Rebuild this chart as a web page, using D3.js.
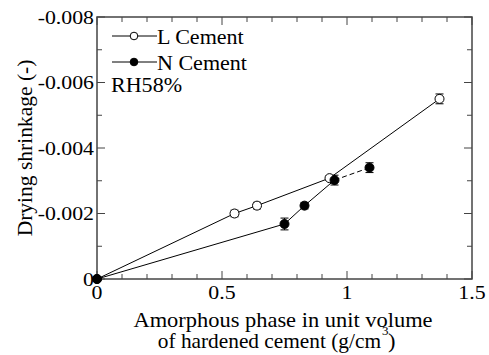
<!DOCTYPE html>
<html>
<head>
<meta charset="utf-8">
<script src="https://cdn.jsdelivr.net/npm/d3@7"></script>
</head>
<body style="margin:0;background:#fff">
<svg id="chart" width="489" height="355"></svg>
<script>
// Drying shrinkage vs. amorphous phase content
const lX = [0, 0.55, 0.64, 0.93, 1.37];
const lY = [0, -0.0020, -0.00224, -0.00308, -0.0055];
const lErr = [0, 0.0001, 0.0001, 0.00006, 0.00015];

const nX = [0, 0.75, 0.83, 0.95, 1.09];
const nY = [0, -0.00168, -0.00224, -0.00302, -0.00340];
const nErr = [0, 0.00018, 0.0001, 0.00015, 0.00015];

const xTicks = [0, 0.5, 1, 1.5];
const xTickLabels = ["0", "0.5", "1", "1.5"];
const yTicks = [0, -0.002, -0.004, -0.006, -0.008];
const yTickLabels = ["0", "-0.002", "-0.004", "-0.006", "-0.008"];

const FONT = "Liberation Serif";

const svg = d3.select("#chart").style("font-family", FONT);
const m = { left: 97, right: 472, top: 17, bottom: 279 };

const x = d3.scaleLinear().domain([0, 1.5]).range([m.left, m.right]);
const y = d3.scaleLinear().domain([0, -0.008]).range([m.bottom, m.top]);

const frameColor = "#444";

// Text helper: places a label at (px, py) with an optional horizontal stretch
function label(px, py, str, size, anchor, sx, rotate) {
  const g = svg.append("g")
    .attr("transform", `translate(${px},${py})` + (rotate ? ` rotate(${rotate})` : "") + ` scale(${sx || 1},1)`);
  return g.append("text")
    .style("font-family", FONT)
    .attr("font-size", size)
    .attr("text-anchor", anchor || "start")
    .attr("fill", "#000")
    .text(str);
}

// Frame
svg.append("rect")
  .attr("x", m.left).attr("y", m.top)
  .attr("width", m.right - m.left).attr("height", m.bottom - m.top)
  .attr("fill", "none").attr("stroke", frameColor).attr("stroke-width", 1.5);

// Minor / major ticks pointing inward on all four sides
const xMinor = d3.range(0, 1.5001, 0.1);
const yMinor = d3.range(0, -0.00801, -0.001);
const tickG = svg.append("g").attr("stroke", frameColor).attr("stroke-width", 1);
xMinor.forEach((v, i) => {
  const len = (i % 5 === 0) ? 8 : 5;
  const px = x(v);
  tickG.append("line").attr("x1", px).attr("x2", px).attr("y1", m.bottom).attr("y2", m.bottom - len);
  tickG.append("line").attr("x1", px).attr("x2", px).attr("y1", m.top).attr("y2", m.top + len);
});
yMinor.forEach((v, i) => {
  const len = (i % 2 === 0) ? 8 : 5;
  const py = y(v);
  tickG.append("line").attr("y1", py).attr("y2", py).attr("x1", m.left).attr("x2", m.left + len);
  tickG.append("line").attr("y1", py).attr("y2", py).attr("x1", m.right).attr("x2", m.right - len);
});

// Tick labels
xTicks.forEach((d, i) => label(x(d), m.bottom + 20, xTickLabels[i], 19.5, "middle", 1.12));
yTicks.forEach((d, i) => label(m.left - 3, y(d) + 6.5, yTickLabels[i], 19.5, "end", 1.12));

// Axis titles
label(283, 327, "Amorphous phase in unit volume", 22, "middle", 1.02);
label(381, 348, "of hardened cement (g/cm", 22, "end", 0.97);
label(382, 335, "3", 13, "start", 1);
label(388, 348, ")", 22, "start", 1.02);

label(32, 148, "Drying shrinkage (-)", 21.5, "middle", 1, -90);

// Series
const line = d3.line().x(d => x(d[0])).y(d => y(d[1]));
const lPts = lX.map((v, i) => [v, lY[i], lErr[i]]);
const nPts = nX.map((v, i) => [v, nY[i], nErr[i]]);

svg.append("path").datum(lPts).attr("d", line)
  .attr("fill", "none").attr("stroke", "#000").attr("stroke-width", 1);
svg.append("path").datum(nPts.slice(0, 4)).attr("d", line)
  .attr("fill", "none").attr("stroke", "#000").attr("stroke-width", 1);
svg.append("path").datum(nPts.slice(3)).attr("d", line)
  .attr("fill", "none").attr("stroke", "#000").attr("stroke-width", 1)
  .attr("stroke-dasharray", "5,3");

function errorBars(pts) {
  const g = svg.append("g").attr("stroke", "#000").attr("stroke-width", 1);
  pts.filter(d => d[2] > 0).forEach(d => {
    const px = x(d[0]);
    const y1 = y(d[1] - d[2]), y2 = y(d[1] + d[2]);
    g.append("line").attr("x1", px).attr("x2", px).attr("y1", y1).attr("y2", y2);
    g.append("line").attr("x1", px - 4).attr("x2", px + 4).attr("y1", y1).attr("y2", y1);
    g.append("line").attr("x1", px - 4).attr("x2", px + 4).attr("y1", y2).attr("y2", y2);
  });
}
errorBars(lPts);
errorBars(nPts);

svg.append("g").selectAll("circle").data(lPts).join("circle")
  .attr("cx", d => x(d[0])).attr("cy", d => y(d[1])).attr("r", 4.5)
  .attr("fill", "#fff").attr("stroke", "#000").attr("stroke-width", 1);
svg.append("g").selectAll("circle").data(nPts).join("circle")
  .attr("cx", d => x(d[0])).attr("cy", d => y(d[1])).attr("r", 4.5)
  .attr("fill", "#000").attr("stroke", "#000").attr("stroke-width", 1);

// Legend
const legend = [
  { label: "L Cement", fill: "#fff", yy: 36 },
  { label: "N Cement", fill: "#000", yy: 62 }
];
legend.forEach(l => {
  svg.append("line").attr("x1", 112).attr("x2", 157).attr("y1", l.yy).attr("y2", l.yy)
    .attr("stroke", "#000").attr("stroke-width", 1);
  svg.append("circle").attr("cx", 134).attr("cy", l.yy).attr("r", 3.8)
    .attr("fill", l.fill).attr("stroke", "#000").attr("stroke-width", 1);
  label(157, l.yy + 7.5, l.label, 21, "start", 1.05);
});
label(111, 92, "RH58%", 21, "start", 1.05);
</script>
</body>
</html>
